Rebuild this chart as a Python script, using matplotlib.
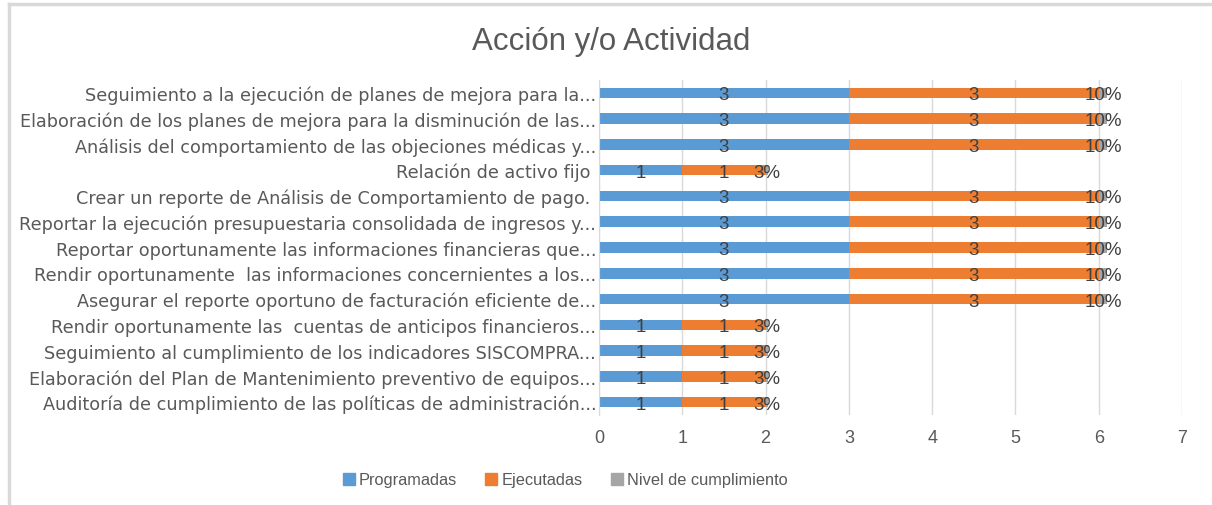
import matplotlib
matplotlib.use("Agg")
import matplotlib.pyplot as plt
from matplotlib.lines import Line2D
from matplotlib.textpath import TextPath
from matplotlib.font_manager import FontProperties
import numpy as np

# ---- data (top row first as shown) ----
categories = [
    "Seguimiento a la ejecución de planes de mejora para la...",
    "Elaboración de los planes de mejora para la disminución de las...",
    "Análisis del comportamiento de las objeciones médicas y...",
    "Relación de activo fijo ",
    "Crear un reporte de Análisis de Comportamiento de pago. ",
    "Reportar la ejecución presupuestaria consolidada de ingresos y...",
    "Reportar oportunamente las informaciones financieras que...",
    "Rendir oportunamente  las informaciones concernientes a los...",
    "Asegurar el reporte oportuno de facturación eficiente de...",
    "Rendir oportunamente las  cuentas de anticipos financieros...",
    "Seguimiento al cumplimiento de los indicadores SISCOMPRA...",
    "Elaboración del Plan de Mantenimiento preventivo de equipos...",
    "Auditoría de cumplimiento de las políticas de administración...",
]
programadas = [3, 3, 3, 1, 3, 3, 3, 3, 3, 1, 1, 1, 1]
ejecutadas  = [3, 3, 3, 1, 3, 3, 3, 3, 3, 1, 1, 1, 1]
nivel       = [0.10, 0.10, 0.10, 0.03, 0.10, 0.10, 0.10, 0.10, 0.10, 0.03, 0.03, 0.03, 0.03]
nivel_labels = ["10%", "10%", "10%", "3%", "10%", "10%", "10%", "10%", "10%", "3%", "3%", "3%", "3%"]
series_names = ["Programadas", "Ejecutadas", "Nivel de cumplimiento"]
title = "Acción y/o Actividad"
xticks = [0, 1, 2, 3, 4, 5, 6, 7]

colors = ["#5B9BD5", "#ED7D31", "#A5A5A5"]
text_gray = "#595959"
label_dark = "#404040"

plt.rcParams["font.family"] = ["Liberation Sans", "DejaVu Sans"]
DPI = 100


def size_for_width(text, family, target_px):
    # font size (pt) at which the text spans target_px pixels
    fp = FontProperties(family=family, size=10)
    w = TextPath((0, 0), text, prop=fp).get_extents().width  # in points at 10pt
    return 10 * target_px / (w * DPI / 72)


label_family = "DejaVu Sans"
label_size = size_for_width(categories[1], label_family, 570)
title_size = size_for_width(title, "Liberation Sans", 276)

fig = plt.figure(figsize=(12.12, 5.06), dpi=DPI)
ax = fig.add_axes([599/1212, (506-416)/506, 583/1212, 335/506])

y = np.arange(len(categories))
h = 0.41
p = np.array(programadas, float)
e = np.array(ejecutadas, float)
n = np.array(nivel, float)
ax.barh(y, p, height=h, color=colors[0], label=series_names[0], zorder=2)
ax.barh(y, e, left=p, height=h, color=colors[1], label=series_names[1], zorder=2)
ax.barh(y, n, left=p+e, height=h, color=colors[2], label=series_names[2], zorder=2)

for i in range(len(categories)):
    for xc, txt in [(p[i]/2, str(programadas[i])),
                    (p[i] + e[i]/2, str(ejecutadas[i])),
                    (p[i] + e[i] + n[i]/2, nivel_labels[i])]:
        ax.text(xc, y[i], txt, ha="center", va="center_baseline",
                fontsize=13.5, color=label_dark, zorder=3)

ax.set_ylim(len(categories)-0.5, -0.5)
ax.set_xlim(0, 7)
ax.set_xticks(xticks)
ax.set_yticks(y)
ax.set_yticklabels(categories, fontsize=label_size, color=text_gray,
                   family=[label_family])
ax.tick_params(axis="x", length=0, pad=10, labelsize=13, labelcolor=text_gray)
ax.tick_params(axis="y", length=0, pad=2)
ax.grid(axis="x", color="#D9D9D9", linewidth=1, zorder=0)
for s in ["top", "right", "bottom"]:
    ax.spines[s].set_visible(False)
ax.spines["left"].set_color("#D9D9D9")

fig.text(611/1212, 1-42/506, title, ha="center", va="center",
         fontsize=title_size, color=text_gray)

handles = [Line2D([0], [0], marker="s", linestyle="none", markersize=8,
                  markerfacecolor=c, markeredgecolor=c) for c in colors]
fig.legend(handles, series_names, loc="center", bbox_to_anchor=(564/1212, 1-481/506),
           ncol=3, frameon=False, prop={"family": ["Liberation Sans"], "size": 11.8},
           labelcolor=text_gray, handletextpad=0.1, columnspacing=1.6, handlelength=1.0)

# frame lines of the chart area
fig.add_artist(Line2D([9/1212, 9/1212], [0, 1-5/506], color="#D9D9D9", linewidth=2.5,
                      transform=fig.transFigure))
fig.add_artist(Line2D([9/1212, 1], [1-5/506, 1-5/506], color="#D9D9D9", linewidth=2.5,
                      transform=fig.transFigure))

fig.savefig("out.png", dpi=DPI)
